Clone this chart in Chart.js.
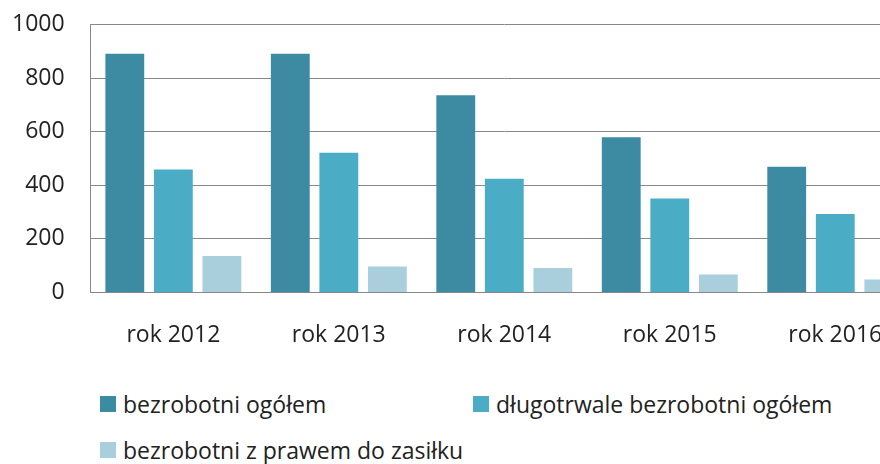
<!DOCTYPE html>
<html>
<head>
<meta charset="utf-8">
<script src="https://cdn.jsdelivr.net/npm/chart.js@4"></script>
<style>
  html, body { margin: 0; padding: 0; background: #fff; overflow: hidden; }
  .wrap { position: relative; width: 880px; height: 464px; }
  .chart-box { position: absolute; left: -27px; top: -15px; width: 946px; height: 403px; }
  .legend { position: absolute; left: 0; top: 0; font-family: "Open Sans", sans-serif; font-size: 23px; color: #222; }
  .legend .item { position: absolute; white-space: nowrap; display: flex; align-items: center; }
  .legend .box { width: 16px; height: 16px; margin-right: 7px; }
</style>
</head>
<body>
<div class="wrap">
  <div class="chart-box"><canvas id="myChart"></canvas></div>
  <div class="legend" id="legend"></div>
</div>
<script>
const categories = ["rok 2012", "rok 2013", "rok 2014", "rok 2015", "rok 2016"];
const seriesNames = [
  "bezrobotni ogółem",
  "długotrwale bezrobotni ogółem",
  "bezrobotni z prawem do zasiłku",
];
const bezrobotniOgolem = [892, 892, 737, 580, 470];
const dlugotrwaleBezrobotni = [459, 522, 425, 351, 293];
const zPrawemDoZasilku = [136, 97, 91, 67, 48];
const yTicks = [0, 200, 400, 600, 800, 1000];

const colors = ["#3c8ba2", "#4bacc6", "#a9cfdd"];
const fontFamily = '"Open Sans", sans-serif';
const textColor = "#222";

const ctx = document.getElementById("myChart");

const data = {
  labels: categories,
  datasets: [bezrobotniOgolem, dlugotrwaleBezrobotni, zPrawemDoZasilku].map((values, i) => ({
    label: seriesNames[i],
    data: values,
    backgroundColor: colors[i],
    borderWidth: 0,
    barPercentage: 0.8,
    categoryPercentage: 0.88,
  })),
};

new Chart(ctx, {
  type: "bar",
  data: data,
  options: {
    responsive: true,
    maintainAspectRatio: false,
    animation: false,
    layout: {
      padding: { left: 13, top: 12, right: 1, bottom: 10 },
    },
    scales: {
      x: {
        grid: { display: false, drawTicks: false },
        border: { display: true, color: "#888", width: 1 },
        ticks: {
          padding: 29,
          color: textColor,
          font: { family: fontFamily, size: 23 },
        },
      },
      y: {
        min: 0,
        max: 1000,
        afterBuildTicks: (axis) => {
          axis.ticks = yTicks.map((v) => ({ value: v }));
        },
        grid: { color: "#888", lineWidth: 1, drawTicks: false },
        border: { display: true, color: "#888", width: 1 },
        ticks: {
          padding: 26,
          color: textColor,
          font: { family: fontFamily, size: 23 },
          callback: (value) => String(value),
        },
      },
    },
    plugins: {
      legend: { display: false },
      tooltip: { enabled: false },
    },
  },
});

// legend laid out like the original: two columns, two rows
const legendPos = [
  { left: 100, top: 388 },
  { left: 473, top: 388 },
  { left: 100, top: 434 },
];
const legend = document.getElementById("legend");
seriesNames.forEach((name, i) => {
  const item = document.createElement("div");
  item.className = "item";
  item.style.left = legendPos[i].left + "px";
  item.style.top = legendPos[i].top + "px";
  const box = document.createElement("span");
  box.className = "box";
  box.style.background = colors[i];
  const txt = document.createElement("span");
  txt.textContent = name;
  item.appendChild(box);
  item.appendChild(txt);
  legend.appendChild(item);
});
</script>
</body>
</html>
